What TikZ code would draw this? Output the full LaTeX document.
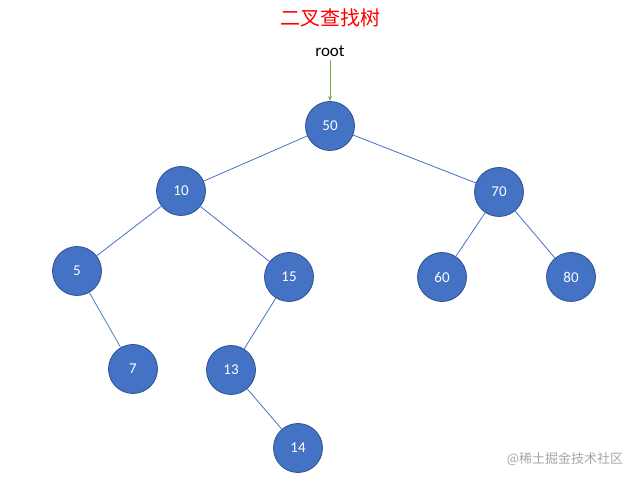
\documentclass[tikz,border=0pt]{standalone}
\usepackage{fontspec}
\usetikzlibrary{arrows.meta}
\setmainfont{Carlito}
\newfontfamily\cjk{Noto Sans CJK SC}
\definecolor{nfill}{HTML}{4472C4}
\definecolor{nedge}{HTML}{2F528F}
\definecolor{rootg}{HTML}{70AD47}
\begin{document}
\begin{tikzpicture}[x=1pt,y=-1pt,
  tn/.style={circle,fill=nfill,draw=nedge,line width=0.8pt,minimum size=49pt,inner sep=0pt,text=white,font=\fontsize{15}{15}\selectfont},
  tedge/.style={draw=nfill,line width=0.8pt}]
\useasboundingbox (0,0) rectangle (641,481);
\node[text=red,font=\cjk\fontsize{20}{20}\selectfont] (title) at (330,18) {二叉查找树};
\node[font=\fontsize{17}{17}\selectfont] (root) at (330,51) {root};
\node[tn] (n50) at (330,126) {50};
\node[tn] (n10) at (181,191) {10};
\node[tn] (n70) at (499,192) {70};
\node[tn] (n5) at (77,271) {5};
\node[tn] (n15) at (289,277) {15};
\node[tn] (n60) at (442,277) {60};
\node[tn] (n80) at (571,277) {80};
\node[tn] (n7) at (133,369) {7};
\node[tn] (n13) at (231,370) {13};
\node[tn] (n14) at (298,448) {14};
\draw[rootg,line width=0.8pt,-{Stealth[length=5pt,width=4pt]}] (root.south) -- (n50.north);
\path[tedge] (n50)--(n10) (n50)--(n70) (n10)--(n5) (n10)--(n15) (n70)--(n60) (n70)--(n80)
 (n5)--(n7) (n15)--(n13) (n13)--(n14);
\node[text=gray!70,font=\cjk\fontsize{13}{13}\selectfont] (wm) at (565,459) {@稀土掘金技术社区};
\end{tikzpicture}
\end{document}
